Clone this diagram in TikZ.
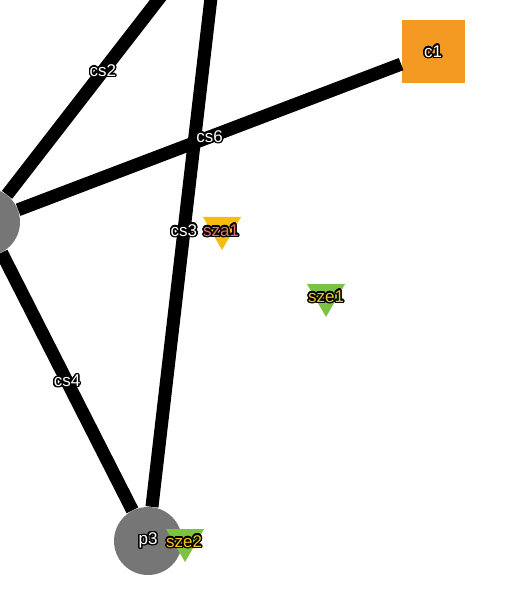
\documentclass[tikz,border=0pt]{standalone}
\usepackage{fontspec}
\setmainfont{Liberation Sans}
\usepackage[copies]{contour}
\contourlength{0.7pt}
\usetikzlibrary{shapes.geometric}

\definecolor{nodegray}{HTML}{767676}
\definecolor{corange}{HTML}{F49A23}
\definecolor{tyellow}{HTML}{F5BE0F}
\definecolor{tgreen}{HTML}{7DC242}
\definecolor{lred}{HTML}{F26B6B}
\definecolor{lyellow}{HTML}{F5C518}

\newcommand{\halo}[2]{\contour{black}{\textcolor{#1}{#2}}}

\begin{document}
\begin{tikzpicture}[x=0.5pt,y=-0.5pt,font=\fontsize{8.5}{10}\selectfont]
\tikzset{
  edge/.style={line width=6.5pt},
  pnode/.style={circle,fill=nodegray,minimum size=34pt,inner sep=0pt},
  cnode/.style={rectangle,fill=corange,minimum size=31.5pt,inner sep=0pt},
  marker/.style={regular polygon,regular polygon sides=3,shape border rotate=180,
    minimum size=22pt,inner sep=0pt},
  tag/.style={inner sep=0pt}
}
\clip (0,0) rectangle (528,598);

% nodes
\node[pnode] (p1) at (-14,222) {};
\node[pnode] (p3) at (148,541) {};
\coordinate (p2) at (220,-80);
\node[cnode] (c1) at (433,52) {};

% edges
\draw[edge] (p1) -- (p2) node[pos=0.45,tag] {\halo{white}{cs2}};
\draw[edge] (p3) -- (p2) node[pos=0.47,tag] {\halo{white}{cs3}};
\draw[edge] (p1) -- (p3) node[midway,tag] {\halo{white}{cs4}};
\draw[edge] (p1) -- (c1) node[midway,tag] {\halo{white}{cs6}};

% labels
\node[tag] at (p3) {\halo{white}{p3}};
\node[tag] at (c1) {\halo{white}{c1}};

% markers
\node[marker,fill=tyellow] (sza1) at (222,228) {};
\node[tag] at (221,231) {\halo{lred}{sza1}};
\node[marker,fill=tgreen] (sze1) at (326,295) {};
\node[tag] at (326,297) {\halo{lyellow}{sze1}};
\node[marker,fill=tgreen] (sze2) at (185,540) {};
\node[tag] at (184,542) {\halo{lyellow}{sze2}};
\end{tikzpicture}
\end{document}
